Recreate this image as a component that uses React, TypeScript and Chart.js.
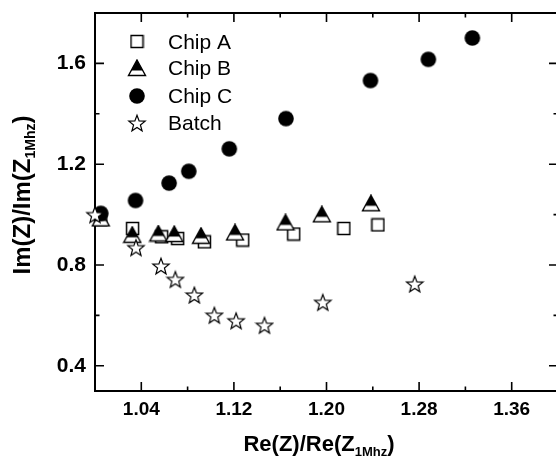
import React, { useEffect, useRef } from "react";
import { Chart, registerables } from "chart.js";

Chart.register(...registerables);

// ---------------- data ----------------
const seriesLabels = ["Chip A", "Chip B", "Chip C", "Batch"];

const chipAX = [1.005, 1.0325, 1.0576, 1.0714, 1.0945, 1.1276, 1.1717, 1.215, 1.2444];
const chipAY = [0.98, 0.945, 0.912, 0.905, 0.892, 0.899, 0.923, 0.945, 0.959];

const chipBX = [1.005, 1.0322, 1.0547, 1.0685, 1.0916, 1.121, 1.1646, 1.196, 1.2384];
const chipBY = [0.985, 0.92, 0.925, 0.923, 0.916, 0.929, 0.969, 1.001, 1.045];

const chipCX = [1.005, 1.035, 1.064, 1.081, 1.116, 1.165, 1.238, 1.288, 1.326];
const chipCY = [1.005, 1.056, 1.125, 1.172, 1.261, 1.381, 1.532, 1.616, 1.701];

const batchX = [1.0, 1.0354, 1.057, 1.0694, 1.0858, 1.1031, 1.1219, 1.1464, 1.1968, 1.2762];
const batchY = [1.0, 0.869, 0.796, 0.743, 0.681, 0.601, 0.579, 0.561, 0.652, 0.725];

const xTickLabels = ["1.04", "1.12", "1.20", "1.28", "1.36"];
const yTickLabels = ["0.4", "0.8", "1.2", "1.6"];
const xMinorTicks = [1.08, 1.16, 1.24, 1.32];
const yMinorTicks = [0.6, 1.0, 1.4];

const xRange = [1.0, 1.4];
const yRange = [0.3, 1.8];

const xTitleMain = "Re(Z)/Re(Z";
const yTitleMain = "Im(Z)/Im(Z";
const titleSub = "1Mhz";
const titleEnd = ")";

const FONT = "'Liberation Sans', Arial, Helvetica, sans-serif";

// ---------------- marker images ----------------
function makeCanvas(w: number, h: number) {
  const c = document.createElement("canvas");
  c.width = w;
  c.height = h;
  return c;
}

function squareMarker() {
  const c = makeCanvas(15, 15);
  const ctx = c.getContext("2d")!;
  ctx.fillStyle = "#fff";
  ctx.fillRect(1.5, 1.5, 12, 12);
  ctx.strokeStyle = "#000";
  ctx.lineWidth = 1.5;
  ctx.strokeRect(1.5, 1.5, 12, 12);
  return c;
}

function circleMarker() {
  const c = makeCanvas(18, 18);
  const ctx = c.getContext("2d")!;
  ctx.fillStyle = "#000";
  ctx.beginPath();
  ctx.arc(9, 9, 7.8, 0, Math.PI * 2);
  ctx.fill();
  return c;
}

function triangleMarker() {
  const c = makeCanvas(20, 18);
  const ctx = c.getContext("2d")!;
  const path = () => {
    ctx.beginPath();
    ctx.moveTo(10, 1);
    ctx.lineTo(18.5, 16.5);
    ctx.lineTo(1.5, 16.5);
    ctx.closePath();
  };
  path();
  ctx.fillStyle = "#fff";
  ctx.fill();
  ctx.save();
  path();
  ctx.clip();
  ctx.fillStyle = "#000";
  ctx.fillRect(0, 0, 20, 11.5);
  ctx.restore();
  path();
  ctx.strokeStyle = "#000";
  ctx.lineWidth = 1.4;
  ctx.lineJoin = "miter";
  ctx.stroke();
  return c;
}

function starMarker() {
  const c = makeCanvas(20, 20);
  const ctx = c.getContext("2d")!;
  const cx = 10, cy = 10.8, R = 8.6, r = 3.6;
  ctx.beginPath();
  for (let i = 0; i < 10; i++) {
    const rad = i % 2 === 0 ? R : r;
    const a = -Math.PI / 2 + (i * Math.PI) / 5;
    const px = cx + rad * Math.cos(a);
    const py = cy + rad * Math.sin(a);
    if (i === 0) ctx.moveTo(px, py);
    else ctx.lineTo(px, py);
  }
  ctx.closePath();
  ctx.fillStyle = "#fff";
  ctx.fill();
  ctx.strokeStyle = "#000";
  ctx.lineWidth = 1.2;
  ctx.stroke();
  return c;
}

function drawRich(
  ctx: CanvasRenderingContext2D,
  main: string,
  sub: string,
  end: string,
  cx: number,
  baseY: number,
  mainSize: number,
  subSize: number
) {
  const mainFont = `bold ${mainSize}px ${FONT}`;
  const subFont = `bold ${subSize}px ${FONT}`;
  ctx.font = mainFont;
  const w1 = ctx.measureText(main).width;
  const w3 = ctx.measureText(end).width;
  ctx.font = subFont;
  const w2 = ctx.measureText(sub).width;
  const total = w1 + w2 + w3;
  let x = cx - total / 2;
  ctx.textAlign = "left";
  ctx.textBaseline = "alphabetic";
  ctx.fillStyle = "#000";
  ctx.font = mainFont;
  ctx.fillText(main, x, baseY);
  x += w1;
  ctx.font = subFont;
  ctx.fillText(sub, x, baseY + 5);
  x += w2;
  ctx.font = mainFont;
  ctx.fillText(end, x, baseY);
}

export default function App() {
  const ref = useRef<HTMLCanvasElement | null>(null);

  useEffect(() => {
    if (!ref.current) return;
    const markers = [squareMarker(), triangleMarker(), circleMarker(), starMarker()];
    const xs = [chipAX, chipBX, chipCX, batchX];
    const ys = [chipAY, chipBY, chipCY, batchY];

    const framePlugin = {
      id: "frameTicks",
      beforeDatasetsDraw(chart: any) {
        const ctx: CanvasRenderingContext2D = chart.ctx;
        const { left, right, top, bottom } = chart.chartArea;
        const xa = chart.scales.x;
        const ya = chart.scales.y;
        ctx.save();
        ctx.strokeStyle = "#000";
        ctx.lineWidth = 2;
        ctx.strokeRect(left, top, right - left, bottom - top);
        const major = 9;
        const minor = 4.5;
        ctx.lineWidth = 1.6;
        ctx.beginPath();
        xTickLabels.forEach((l) => {
          const px = xa.getPixelForValue(parseFloat(l));
          ctx.moveTo(px, bottom);
          ctx.lineTo(px, bottom - major);
          ctx.moveTo(px, top);
          ctx.lineTo(px, top + major);
        });
        xMinorTicks.forEach((v) => {
          const px = xa.getPixelForValue(v);
          ctx.moveTo(px, bottom);
          ctx.lineTo(px, bottom - minor);
          ctx.moveTo(px, top);
          ctx.lineTo(px, top + minor);
        });
        yTickLabels.forEach((l) => {
          const py = ya.getPixelForValue(parseFloat(l));
          ctx.moveTo(left, py);
          ctx.lineTo(left + major, py);
          ctx.moveTo(right, py);
          ctx.lineTo(right - major, py);
        });
        yMinorTicks.forEach((v) => {
          const py = ya.getPixelForValue(v);
          ctx.moveTo(left, py);
          ctx.lineTo(left + minor, py);
          ctx.moveTo(right, py);
          ctx.lineTo(right - minor, py);
        });
        ctx.stroke();
        ctx.restore();
      },
      afterDraw(chart: any) {
        const ctx: CanvasRenderingContext2D = chart.ctx;
        ctx.save();
        // legend
        const markerX = 137;
        const textX = 168;
        const rowY = [41.5, 68, 96, 123];
        chart.data.datasets.forEach((ds: any, i: number) => {
          const m = markers[i];
          ctx.drawImage(m, markerX - m.width / 2, rowY[i] - m.height / 2);
          ctx.font = `21px ${FONT}`;
          ctx.fillStyle = "#000";
          ctx.textAlign = "left";
          ctx.textBaseline = "alphabetic";
          ctx.fillText(ds.label, textX, rowY[i] + 7.3);
        });
        // axis titles
        drawRich(ctx, xTitleMain, titleSub, titleEnd, 319, 451, 22, 13);
        ctx.save();
        ctx.translate(30, 195);
        ctx.rotate(-Math.PI / 2);
        drawRich(ctx, yTitleMain, titleSub, titleEnd, 0, 0, 24, 14);
        ctx.restore();
        ctx.restore();
      },
    };

    const order = [4, 3, 2, 1];
    const chart = new Chart(ref.current, {
      type: "scatter",
      data: {
        datasets: seriesLabels.map((label, i) => ({
          label,
          data: xs[i].map((x, j) => ({ x, y: ys[i][j] })),
          pointStyle: markers[i] as any,
          pointRadius: 8,
          pointHoverRadius: 8,
          showLine: false,
          clip: false as any,
          order: order[i],
        })),
      },
      options: {
        responsive: false,
        animation: false,
        devicePixelRatio: 1,
        events: [],
        layout: { padding: { top: 13, right: 14, left: 0, bottom: 0 } },
        plugins: {
          legend: { display: false },
          tooltip: { enabled: false },
          title: { display: false },
        },
        scales: {
          x: {
            type: "linear",
            min: xRange[0],
            max: xRange[1],
            grid: { display: false, drawTicks: false },
            border: { display: false },
            afterBuildTicks: (s: any) => {
              s.ticks = xTickLabels.map((l) => ({ value: parseFloat(l) }));
            },
            afterFit: (s: any) => {
              s.height = 67;
              s.paddingLeft = 0;
              s.paddingRight = 0;
              s.paddingTop = 0;
              s.paddingBottom = 0;
            },
            ticks: {
              autoSkip: false,
              maxRotation: 0,
              padding: 7,
              color: "#000",
              font: { family: FONT, size: 19, weight: "bold" },
              callback: (_v: any, i: number) => xTickLabels[i],
            },
          },
          y: {
            type: "linear",
            min: yRange[0],
            max: yRange[1],
            grid: { display: false, drawTicks: false },
            border: { display: false },
            afterBuildTicks: (s: any) => {
              s.ticks = yTickLabels.map((l) => ({ value: parseFloat(l) }));
            },
            afterFit: (s: any) => {
              s.width = 95;
              s.paddingLeft = 0;
              s.paddingRight = 0;
              s.paddingTop = 0;
              s.paddingBottom = 0;
            },
            ticks: {
              autoSkip: false,
              padding: 9,
              color: "#000",
              font: { family: FONT, size: 21, weight: "bold" },
              callback: (_v: any, i: number) => yTickLabels[i],
            },
          },
        },
      },
      plugins: [framePlugin],
    } as any);

    return () => chart.destroy();
  }, []);

  return (
    <div
      style={{
        position: "absolute",
        left: 0,
        top: 0,
        width: 556,
        height: 458,
        overflow: "hidden",
        background: "#fff",
      }}
    >
      <canvas
        ref={ref}
        width={572}
        height={458}
        style={{ display: "block", width: 572, height: 458 }}
      />
    </div>
  );
}
